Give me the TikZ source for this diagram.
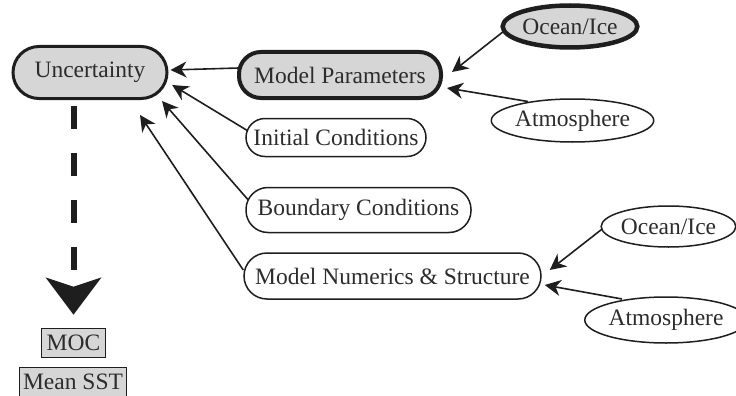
\documentclass[tikz,border=0pt]{standalone}
\usepackage{fontspec}
\setmainfont{Liberation Serif}
\usetikzlibrary{arrows.meta,shapes.geometric}
\pgfdeclarelayer{background}
\pgfsetlayers{background,main}
\definecolor{boxgray}{HTML}{D6D6D6}
\definecolor{ink}{HTML}{1E1E1E}
\definecolor{txt}{HTML}{2C2C2C}
\begin{document}
\begin{tikzpicture}[x=1pt,y=-1pt,
  every node/.style={inner sep=0pt,text=txt,font=\fontsize{23.5}{26}\selectfont},
  pill/.style={draw=ink,line width=1.5pt,fill=white,rectangle,rounded corners=19pt},
  pillthick/.style={draw=ink,line width=4pt,fill=boxgray,rectangle,rounded corners=22pt},
  oval/.style={draw=ink,line width=1.5pt,fill=white,ellipse},
  ovalthick/.style={draw=ink,line width=4.5pt,fill=boxgray,ellipse},
  outbox/.style={draw=ink,line width=1.5pt,fill=boxgray,rectangle,minimum height=29pt},
  arr/.style={draw=ink,line width=1.6pt,-{Stealth[length=16pt,width=16pt,inset=5pt]}},
  bigarr/.style={draw=ink,line width=6pt,dash pattern=on 23pt off 24pt,dash phase=41pt,
     -{Stealth[length=37pt,width=55pt,inset=9pt]}}]
\useasboundingbox (0,0) rectangle (736,396);

\node[pillthick,line width=3pt,rounded corners=26pt,minimum width=154pt,minimum height=52pt] (unc) at (90,72.5) {Uncertainty};
\node[pillthick,minimum width=202pt,minimum height=46pt] (mp) at (340,75) {Model Parameters};
\node[pill,minimum width=180pt,minimum height=38pt] (ic) at (336,137.5) {Initial Conditions};
\node[pill,rounded corners=22pt,minimum width=225pt,minimum height=45pt] (bc) at (358.5,210) {Boundary Conditions};
\node[pill,rounded corners=23pt,minimum width=297pt,minimum height=46pt] (mn) at (392.5,276) {Model Numerics \& Structure};

\node[ovalthick,minimum width=119pt,minimum height=42pt] (oi1) at (570,26.5) {Ocean/Ice};
\node[oval,minimum width=149pt,minimum height=43pt] (at1) at (572.5,120.5) {Atmosphere};
\node[oval,minimum width=121pt,minimum height=41pt] (oi2) at (668.5,226.5) {Ocean/Ice};
\node[oval,minimum width=137pt,minimum height=46pt] (at2) at (666,320) {Atmosphere};

\node[outbox,minimum width=64pt] (moc) at (73.5,343) {MOC};
\node[outbox,minimum width=107pt] (sst) at (73,382) {Mean SST};

\begin{pgfonlayer}{background}
\draw[arr] ([shift={(2,-7)}]mp.west) -- ([shift={(2,-2.5)}]unc.east);
\draw[arr] ([shift={(2,-7)}]ic.west) -- ([shift={(3.7,12.5)}]unc.east);
\draw[arr] ([shift={(3,-10)}]bc.west) -- ([shift={(72,1)}]unc.south);
\draw[arr] ([shift={(0,-6)}]mn.west) -- ([shift={(50,15)}]unc.south);
\draw[arr] ([shift={(3,5)}]oi1.west) -- ([shift={(9,-3)}]mp.east);
\draw[arr] ([shift={(-44.5,-19)}]at1.center) -- ([shift={(4,13)}]mp.east);
\draw[arr] ([shift={(3,1.5)}]oi2.west) -- ([shift={(8,-6)}]mn.east);
\draw[arr] ([shift={(-44,-21)}]at2.center) -- ([shift={(3,9)}]mn.east);
\draw[bigarr,shorten >=13pt] (unc.south -| moc.north) -- (moc.north);
\end{pgfonlayer}
\end{tikzpicture}
\end{document}
